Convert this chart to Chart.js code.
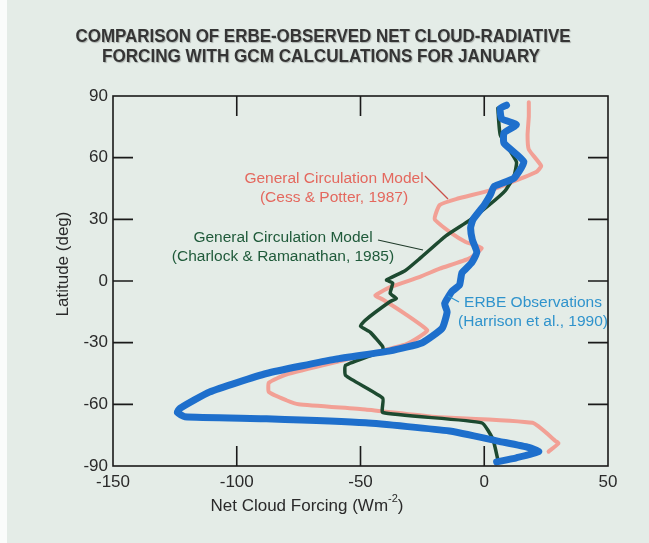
<!DOCTYPE html>
<html>
<head>
<meta charset="utf-8">
<script src="https://cdn.jsdelivr.net/npm/chart.js@4.4.0/dist/chart.umd.min.js"></script>
<style>
  html, body { margin: 0; padding: 0; background: #e4ece7; }
  body { width: 649px; height: 543px; overflow: hidden; }
  #wrap { position: absolute; left: 0; top: 0; width: 649px; height: 543px; }
</style>
</head>
<body>
<div id="wrap"><canvas id="cloudChart" width="649" height="543"></canvas></div>
<script>
// ERBE observations (Harrison et al., 1990)
const erbeLat = [85.5, 84, 79, 76, 72, 67, 58, 50, 46, 42, 37, 30, 26, 20, 14, 9, 4, 1, -2, -5, -11, -15, -23, -30, -34, -38, -45, -54, -62, -64, -66, -67, -69, -73, -78, -81, -83, -86, -88];
const erbeForcing = [9, 6.5, 7, 13, 8, 8, 16, 12, 4, 2.5, 0, -4.5, -5.5, -4.8, -3, -5, -9, -9.5, -10, -13, -16, -15, -17, -25, -38, -60, -88, -111, -123, -124, -121, -88, -48, -14, 6, 18, 22, 13, 5];

// GCM, Cess & Potter (1987)
const cessLat = [87, 80, 71, 64, 56, 53, 48, 44, 40, 37, 30, 23, 19, 16, 11, 6, 2, -3, -7, -9, -16, -24, -27, -31, -38, -45.5, -49.5, -54, -58, -60, -62.5, -66, -69, -78, -79, -83];
const cessForcing = [18, 18, 17.5, 18, 23, 21, 11, 2, -11, -18, -20, -13, -7.5, -1, -6, -18, -26, -38, -44, -41, -32, -23, -26, -32, -55, -80, -87, -87, -80, -75, -48, -21, 19.5, 29, 30, 26];

// GCM, Charlock & Ramanathan (1985)
const charlockLat = [84, 71, 58, 51, 44, 37, 29.5, 22, 11, 5, 0.5, -1, -6, -8.5, -10, -19, -22, -25, -32, -34, -41, -46, -57, -64, -69, -77, -87];
const charlockForcing = [5.5, 6.5, 13, 12, 8.5, 2, -6, -15.5, -26, -32, -39.5, -37, -38, -35.5, -38, -48, -50, -46, -41, -41, -56, -56, -41, -41, -1, 3.5, 5.5];

const xTicks = [-150, -100, -50, 0, 50];
const yTicks = [-90, -60, -30, 0, 30, 60, 90];

function toPoints(xs, ys) {
    return xs.map((x, i) => ({ x: x, y: ys[i] }));
}

const axisFont = "'Liberation Sans', Arial, sans-serif";

// frame, inward ticks, titles and annotations
const decorations = {
    id: 'decorations',
    beforeDraw(chart) {
        const c = chart.ctx;
        c.save();
        c.fillStyle = '#e4ece7';
        c.fillRect(0, 0, chart.width, chart.height);
        c.fillStyle = '#fafcfb';
        c.fillRect(0, 0, 7, chart.height);
        c.restore();
    },
    afterDraw(chart) {
        const c = chart.ctx;
        const a = chart.chartArea;
        const xs = chart.scales.x, ys = chart.scales.y;
        c.save();
        c.strokeStyle = '#1a1a1a';
        c.lineWidth = 1.6;
        c.strokeRect(a.left, a.top, a.right - a.left, a.bottom - a.top);
        const tl = 20;
        c.beginPath();
        xTicks.slice(1, -1).forEach(v => {
            const px = xs.getPixelForValue(v);
            c.moveTo(px, a.bottom); c.lineTo(px, a.bottom - tl);
            c.moveTo(px, a.top); c.lineTo(px, a.top + tl);
        });
        yTicks.slice(1, -1).forEach(v => {
            const py = ys.getPixelForValue(v);
            c.moveTo(a.left, py); c.lineTo(a.left + tl, py);
            c.moveTo(a.right, py); c.lineTo(a.right - tl, py);
        });
        c.stroke();

        // chart title
        c.fillStyle = '#353535';
        c.shadowColor = 'rgba(0,0,0,0.25)';
        c.shadowOffsetX = 1; c.shadowOffsetY = 1; c.shadowBlur = 1;
        c.textAlign = 'center';
        c.textBaseline = 'middle';
        c.font = "bold 18px " + axisFont;
        c.fillText('COMPARISON OF ERBE-OBSERVED NET CLOUD-RADIATIVE', 323, 37, 495);
        c.fillText('FORCING WITH GCM CALCULATIONS FOR JANUARY', 321, 57, 438);
        c.shadowColor = 'transparent';

        // axis titles
        c.fillStyle = '#2a2a2a';
        c.font = "17px " + axisFont;
        const main = 'Net Cloud Forcing (Wm';
        const wMain = c.measureText(main).width;
        c.font = "11px " + axisFont;
        const wSup = c.measureText('-2').width;
        c.font = "17px " + axisFont;
        const wEnd = c.measureText(')').width;
        let x0 = 307 - (wMain + wSup + wEnd) / 2;
        c.textAlign = 'left';
        c.fillText(main, x0, 506);
        c.font = "11px " + axisFont;
        c.fillText('-2', x0 + wMain, 499);
        c.font = "17px " + axisFont;
        c.fillText(')', x0 + wMain + wSup, 506);

        c.save();
        c.translate(63, 264);
        c.rotate(-Math.PI / 2);
        c.textAlign = 'center';
        c.fillText('Latitude (deg)', 0, 0);
        c.restore();

        // annotations
        c.font = "15.5px " + axisFont;
        c.textAlign = 'center';
        c.fillStyle = '#e4685e';
        c.fillText('General Circulation Model', 334, 179);
        c.fillText('(Cess & Potter, 1987)', 334, 198);
        c.strokeStyle = '#c9504a';
        c.lineWidth = 1.2;
        c.beginPath(); c.moveTo(425, 176); c.lineTo(448, 199); c.stroke();

        c.fillStyle = '#1f5a3a';
        c.fillText('General Circulation Model', 283, 238);
        c.fillText('(Charlock & Ramanathan, 1985)', 283, 257);
        c.strokeStyle = '#1f3a2a';
        c.beginPath(); c.moveTo(378, 240); c.lineTo(423, 250); c.stroke();

        c.fillStyle = '#2f93cc';
        c.fillText('ERBE Observations', 533, 303);
        c.fillText('(Harrison et al., 1990)', 533, 322);
        c.strokeStyle = '#2f93cc';
        c.beginPath(); c.moveTo(448, 296); c.lineTo(459, 302); c.stroke();
        c.restore();
    }
};

const lineStyle = {
    showLine: true,
    pointRadius: 0,
    borderJoinStyle: 'round',
    borderCapStyle: 'round',
    tension: 0.15,
    fill: false
};

new Chart(document.getElementById('cloudChart'), {
    type: 'scatter',
    data: {
        datasets: [
            Object.assign({ label: 'ERBE Observations (Harrison et al., 1990)', data: toPoints(erbeForcing, erbeLat), borderColor: '#1e6fcc', borderWidth: 7 }, lineStyle),
            Object.assign({ label: 'General Circulation Model (Charlock & Ramanathan, 1985)', data: toPoints(charlockForcing, charlockLat), borderColor: '#1d4a30', borderWidth: 3.5 }, lineStyle),
            Object.assign({ label: 'General Circulation Model (Cess & Potter, 1987)', data: toPoints(cessForcing, cessLat), borderColor: '#f2a095', borderWidth: 4 }, lineStyle)
        ]
    },
    options: {
        responsive: false,
        animation: false,
        layout: { padding: { left: 0, right: 41, top: 96, bottom: 0 } },
        plugins: {
            legend: { display: false },
            tooltip: { enabled: false }
        },
        scales: {
            x: {
                type: 'linear',
                min: -150, max: 50,
                afterBuildTicks: s => { s.ticks = xTicks.map(v => ({ value: v })); },
                afterFit: s => { s.height = 77; },
                grid: { display: false, drawTicks: false },
                border: { display: false },
                ticks: { color: '#2a2a2a', padding: 6, maxRotation: 0, font: { size: 17, family: axisFont } }
            },
            y: {
                type: 'linear',
                min: -90, max: 90,
                afterBuildTicks: s => { s.ticks = yTicks.map(v => ({ value: v })); },
                afterFit: s => { s.width = 113; },
                grid: { display: false, drawTicks: false },
                border: { display: false },
                ticks: { color: '#2a2a2a', padding: 5, font: { size: 17, family: axisFont } }
            }
        }
    },
    plugins: [decorations]
});
</script>
</body>
</html>
